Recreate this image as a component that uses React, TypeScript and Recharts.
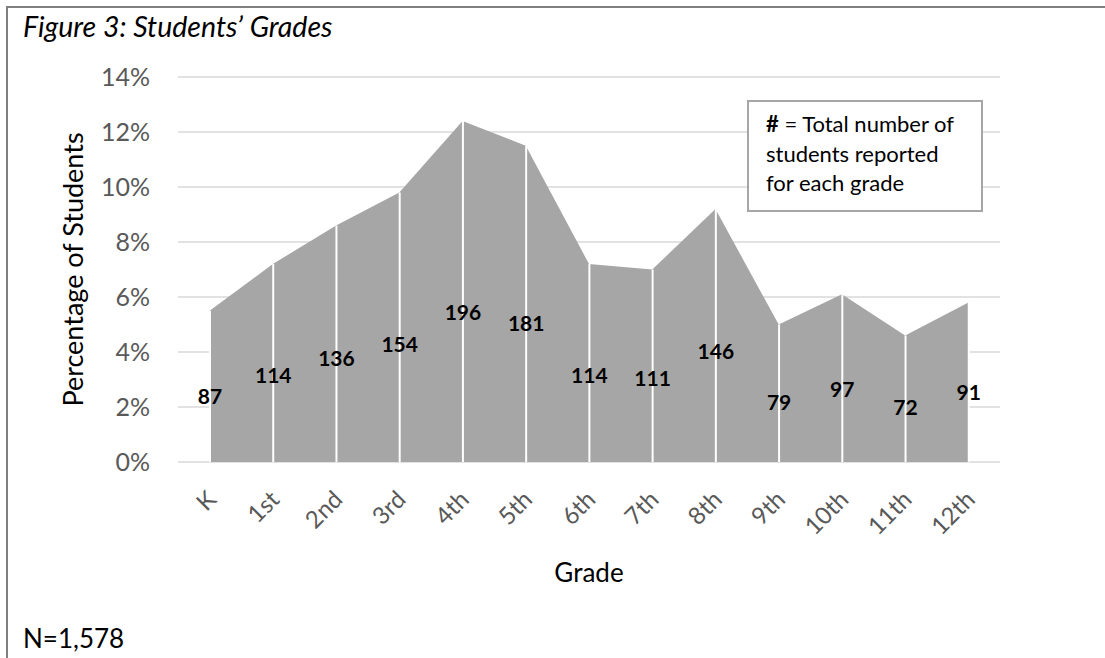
// @ts-nocheck
import React from 'react';
import { ComposedChart, Area, Bar, XAxis, YAxis, CartesianGrid, LabelList, Label } from 'recharts';

const grades = ['K', '1st', '2nd', '3rd', '4th', '5th', '6th', '7th', '8th', '9th', '10th', '11th', '12th'];
const studentCounts = [87, 114, 136, 154, 196, 181, 114, 111, 146, 79, 97, 72, 91];
const percentValues = [5.5, 7.2, 8.6, 9.8, 12.4, 11.5, 7.2, 7.0, 9.2, 5.0, 6.1, 4.6, 5.8];
const yTicks = [0, 2, 4, 6, 8, 10, 12, 14];

const FONT = 'Lato, "Open Sans", sans-serif';

const data = grades.map((grade, i) => ({ grade, pct: percentValues[i], count: studentCounts[i] }));

const GradeTick = ({ x, y, payload }: any) => {
    const ax = x - 4;
    return (
        <text
            x={ax}
            y={y}
            transform={`rotate(-45, ${ax}, ${y})`}
            textAnchor="end"
            dy="0.71em"
            fill="#595959"
            fontSize={24}
            fontFamily={FONT}
        >
            {payload.value}
        </text>
    );
};

// count labels sit a bit below the middle of each column
const CountLabel = (props: any) => {
    const { x, y, width, height, value } = props;
    const cx = x + width / 2;
    const cy = y + height * 0.56;
    return (
        <text x={cx} y={cy} textAnchor="middle" dominantBaseline="central" fontSize={21} fontWeight={700} fill="#000" fontFamily={FONT}>
            {value}
        </text>
    );
};

const App: React.FC = () => {
    return (
        <div style={{ position: 'absolute', left: 0, top: 0, width: 1105, height: 658, overflow: 'hidden', background: '#fff', fontFamily: FONT }}>
            <div style={{ position: 'absolute', left: 6, top: 6, width: 1300, height: 900, border: '2px solid #7f7f7f' }} />

            <div style={{ position: 'absolute', left: 23, top: 12, fontSize: 28.5, lineHeight: '28.5px', fontStyle: 'italic', color: '#000', whiteSpace: 'nowrap' }}>
                Figure 3: Students’ Grades
            </div>

            <div style={{ position: 'absolute', left: 0, top: 0 }}>
                <ComposedChart width={1105} height={658} data={data} margin={{ top: 77, right: 105, bottom: 66, left: 0 }}>
                    <CartesianGrid horizontal vertical={false} stroke="#d9d9d9" strokeWidth={1.5} />
                    <XAxis
                        dataKey="grade"
                        height={130}
                        tick={<GradeTick />}
                        tickLine={false}
                        axisLine={false}
                        tickSize={0}
                        tickMargin={27}
                        interval={0}
                    >
                        <Label
                            content={({ viewBox }: any) => (
                                <text x={viewBox.x + viewBox.width / 2} y={viewBox.y + 120} textAnchor="middle" fontSize={26} fill="#000" fontFamily={FONT}>
                                    Grade
                                </text>
                            )}
                        />
                    </XAxis>
                    <YAxis
                        width={178}
                        domain={[0, 14]}
                        ticks={yTicks}
                        tickFormatter={(v: number) => `${v}%`}
                        tick={{ fill: '#595959', fontSize: 25, fontFamily: FONT }}
                        tickLine={false}
                        axisLine={false}
                        tickSize={0}
                        tickMargin={28}
                    >
                        <Label
                            content={({ viewBox }: any) => {
                                const lx = viewBox.x + 72;
                                const ly = viewBox.y + viewBox.height / 2;
                                return (
                                    <text x={lx} y={ly} transform={`rotate(-90, ${lx}, ${ly})`} textAnchor="middle" dominantBaseline="central" fontSize={27} fill="#000" fontFamily={FONT}>
                                        Percentage of Students
                                    </text>
                                );
                            }}
                        />
                    </YAxis>
                    <Area type="linear" dataKey="pct" stroke="none" fill="#a6a6a6" fillOpacity={1} isAnimationActive={false} />
                    <Bar dataKey="pct" barSize={2} fill="#ffffff" isAnimationActive={false}>
                        <LabelList dataKey="count" content={<CountLabel />} />
                    </Bar>
                </ComposedChart>
            </div>

            <div
                style={{
                    position: 'absolute',
                    left: 747,
                    top: 100,
                    width: 236,
                    height: 112,
                    boxSizing: 'border-box',
                    border: '2px solid #a6a6a6',
                    background: '#fff',
                    padding: '7px 0 0 17px',
                    fontSize: 22,
                    lineHeight: '29.5px',
                    color: '#000',
                    whiteSpace: 'nowrap',
                }}
            >
                <div><b>#</b> = Total number of</div>
                <div>students reported</div>
                <div>for each grade</div>
            </div>

            <div style={{ position: 'absolute', left: 23, top: 625, fontSize: 26, lineHeight: '26px', color: '#000', whiteSpace: 'nowrap' }}>
                N=1,578
            </div>
        </div>
    );
};

export default App;
